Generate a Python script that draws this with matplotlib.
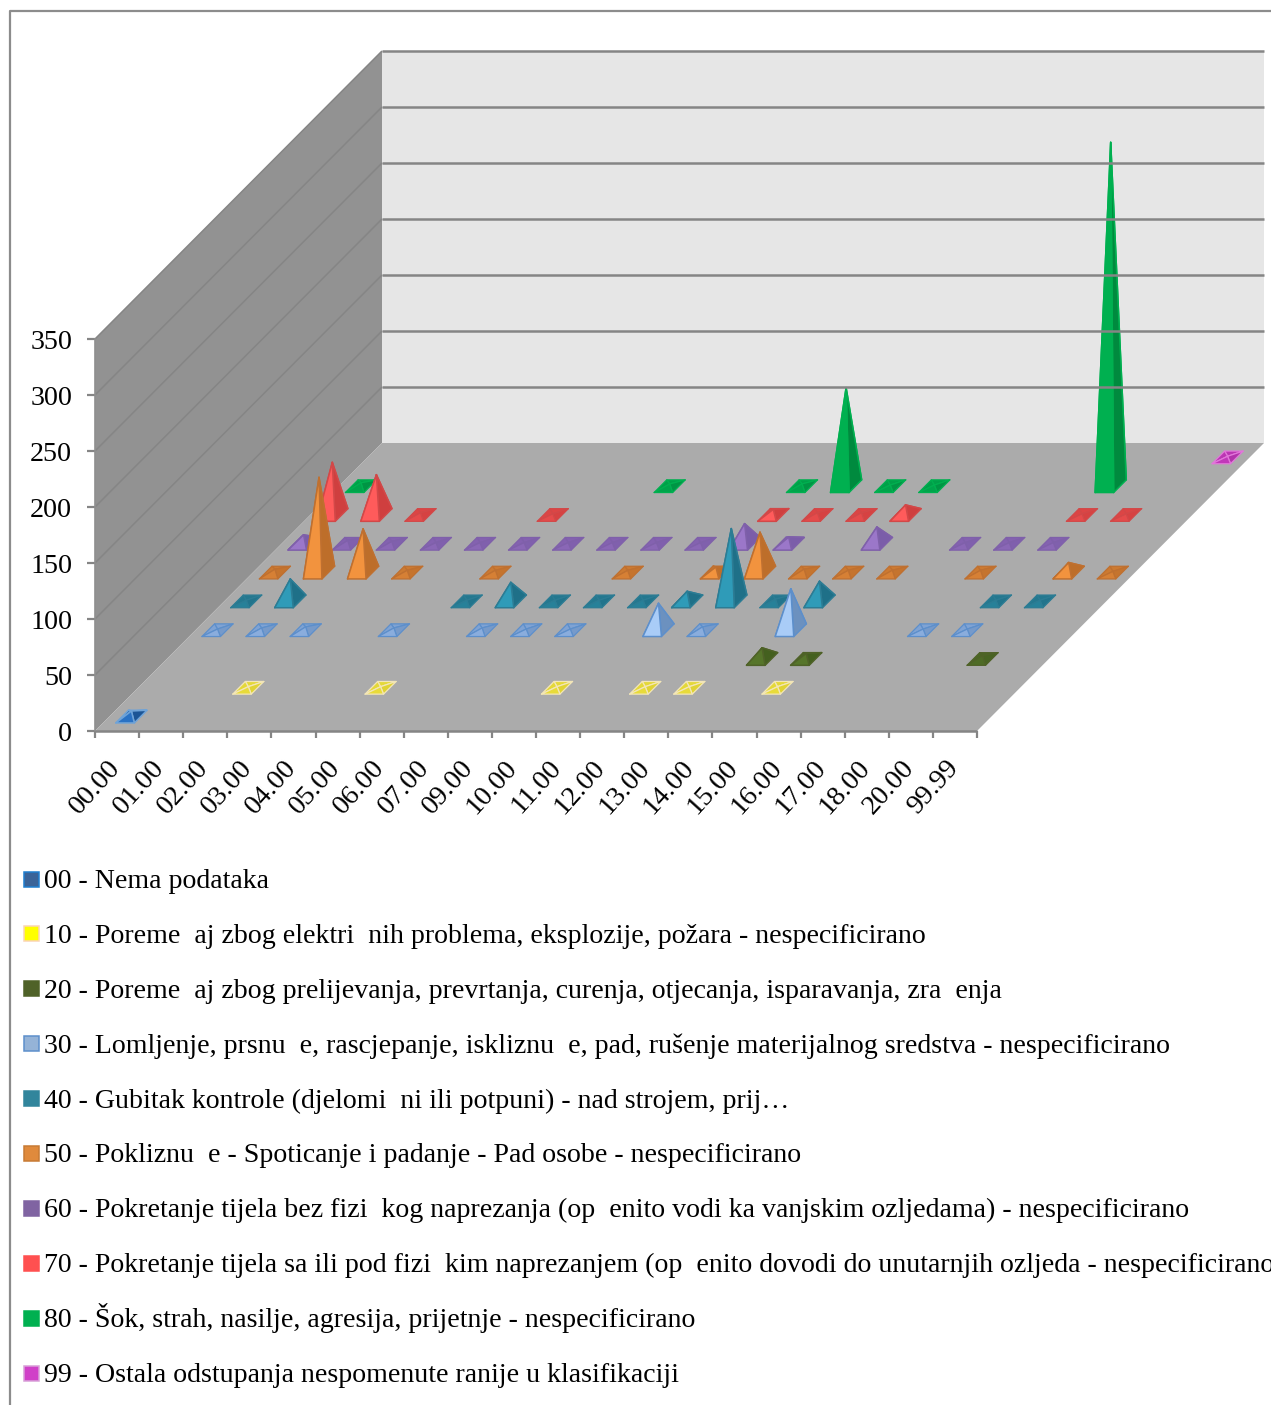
"""Excel style 3D pyramid chart, drawn on a pixel axes with an oblique projection."""
import matplotlib
matplotlib.use("Agg")
import matplotlib.pyplot as plt
from matplotlib.colors import to_rgb
from matplotlib.patches import Polygon, Rectangle

plt.rcParams["font.family"] = ["Liberation Serif", "DejaVu Sans"]

hours = ["00.00", "01.00", "02.00", "03.00", "04.00", "05.00", "06.00", "07.00", "09.00", "10.00",
         "11.00", "12.00", "13.00", "14.00", "15.00", "16.00", "17.00", "18.00", "20.00", "99.99"]
y_ticks = [0, 50, 100, 150, 200, 250, 300, 350]

# one value per hour, 0 = no pyramid
s00 = [5, 0, 0, 0, 0, 0, 0, 0, 0, 0, 0, 0, 0, 0, 0, 0, 0, 0, 0, 0]
s10 = [0, 0, 1, 0, 0, 1, 0, 0, 0, 1, 0, 1, 1, 0, 1, 0, 0, 0, 0, 0]
s20 = [0, 0, 0, 0, 0, 0, 0, 0, 0, 0, 0, 0, 0, 10, 5, 0, 0, 0, 3, 0]
s30 = [1, 2, 3, 0, 2, 0, 2, 1, 1, 0, 24, 3, 0, 37, 0, 0, 1, 1, 0, 0]
s40 = [1, 20, 0, 0, 0, 1, 17, 1, 1, 1, 9, 65, 2, 18, 0, 0, 0, 1, 1, 0]
s50 = [3, 85, 39, 2, 0, 2, 0, 0, 2, 0, 5, 36, 3, 2, 2, 0, 2, 0, 9, 1]
s60 = [8, 3, 2, 1, 1, 1, 1, 1, 1, 1, 18, 6, 0, 15, 0, 1, 1, 1, 0, 0]
s70 = [47, 36, 2, 0, 0, 1, 0, 0, 0, 0, 5, 2, 2, 9, 0, 0, 0, 1, 1, 0]
s80 = [3, 0, 0, 0, 0, 0, 0, 2, 0, 0, 2, 88, 1, 1, 0, 0, 0, 307, 0, 0]
s99 = [0, 0, 0, 0, 0, 0, 0, 0, 0, 0, 0, 0, 0, 0, 0, 0, 0, 0, 0, 1]
series = [s00, s10, s20, s30, s40, s50, s60, s70, s80, s99]

labels = [
    "00 - Nema podataka",
    "10 - Poreme  aj zbog elektri  nih problema, eksplozije, požara - nespecificirano",
    "20 - Poreme  aj zbog prelijevanja, prevrtanja, curenja, otjecanja, isparavanja, zra  enja",
    "30 - Lomljenje, prsnu  e, rascjepanje, iskliznu  e, pad, rušenje materijalnog sredstva - nespecificirano",
    "40 - Gubitak kontrole (djelomi  ni ili potpuni) - nad strojem, prij…",
    "50 - Pokliznu  e - Spoticanje i padanje - Pad osobe - nespecificirano",
    "60 - Pokretanje tijela bez fizi  kog naprezanja (op  enito vodi ka vanjskim ozljedama) - nespecificirano",
    "70 - Pokretanje tijela sa ili pod fizi  kim naprezanjem (op  enito dovodi do unutarnjih ozljeda - nespecificirano",
    "80 - Šok, strah, nasilje, agresija, prijetnje - nespecificirano",
    "99 - Ostala odstupanja nespomenute ranije u klasifikaciji",
]
# front face, right face, back/left face, edge
palette = [
    ("#2a72c4", "#1c5596", "#1f5fa8", "#6fa3d8"),
    ("#f2e640", "#dccf2e", "#e4d838", "#f3e6b8"),
    ("#56752a", "#44601f", "#4b6724", "#4f6228"),
    ("#a9ccf7", "#6c91bf", "#7fa3d4", "#5d8fcb"),
    ("#2f9bb8", "#1f7088", "#24788f", "#2c7c94"),
    ("#f2933e", "#bd6e2a", "#cc7a32", "#bf7030"),
    ("#9b77c9", "#7b5da9", "#8462b0", "#7f60aa"),
    ("#ff5b5b", "#cf3f3f", "#dc4545", "#d24848"),
    ("#00b050", "#008a3e", "#00a049", "#00b050"),
    ("#d23fca", "#a92fa2", "#bb36b3", "#e276da"),
]
legend_fill = ["#3a6398", "#ffff00", "#4f6228", "#95b3d7", "#31859c", "#e08a3c", "#8064a2", "#ff5050", "#00b050", "#d040c8"]
legend_edge = ["#1f7fd0", "#fbd5b5", "#4f6228", "#5d8fcb", "#31859c", "#c77b35", "#8064a2", "#ff5050", "#00b050", "#d9a0d8"]

# projection, pixels
X0, Y0 = 95.0, 731.0
CAT_W = 44.1
SER_DX, SER_DY = 28.7, 28.8
PX_PER_UNIT = 392.0 / 350.0
BASE_W = 0.42
BASE_D = 0.44


def project(cat, ser, val=0.0):
    return (X0 + CAT_W * cat + SER_DX * ser, Y0 - SER_DY * ser - PX_PER_UNIT * val)


def mix(a, b, t):
    return tuple(x * (1 - t) + y * t for x, y in zip(to_rgb(a), to_rgb(b)))


def pyramid(ax, cat, ser, val, colors):
    front, right, back, edge = colors
    lw = 1.1
    # very low pyramids read almost as one flat tile
    if val <= 3:
        front = mix(front, back, 0.75)
        right = mix(right, back, 0.5)
        lw = 0.9
    c, s = cat + 0.5, ser + 0.5
    hw, hd = BASE_W / 2, BASE_D / 2
    fl = project(c - hw, s - hd)
    fr = project(c + hw, s - hd)
    br = project(c + hw, s + hd)
    bl = project(c - hw, s + hd)
    apex = project(c, s, val)
    for a, b, col in [(bl, br, back), (fl, bl, back), (fr, br, right), (fl, fr, front)]:
        ax.add_patch(Polygon([a, b, apex], closed=True, fc=col, ec=edge, lw=lw, joinstyle="round"))


fig = plt.figure(figsize=(12.71, 14.05), dpi=100)
ax = fig.add_axes([0, 0, 1, 1])
ax.set_xlim(0, 1271)
ax.set_ylim(1405, 0)
ax.axis("off")

# outer chart frame, only the left and top sides are on the page
ax.plot([9.5, 9.5, 1271], [1405, 10.5, 10.5], color="#8c8c8c", lw=1.6)

n_cat, n_ser, top = len(hours), len(series), y_ticks[-1]
grid = "#858585"

ax.add_patch(Polygon([project(0, 0), project(0, n_ser), project(0, n_ser, top), project(0, 0, top)],
                     fc="#929292", ec="none"))
ax.add_patch(Polygon([project(0, n_ser), project(n_cat, n_ser), project(n_cat, n_ser, top), project(0, n_ser, top)],
                     fc="#e6e6e6", ec="none"))
ax.add_patch(Polygon([project(0, 0), project(n_cat, 0), project(n_cat, n_ser), project(0, n_ser)],
                     fc="#ababab", ec="none"))

for v in y_ticks:
    (xa, ya), (xb, yb), (xc, yc) = project(0, 0, v), project(0, n_ser, v), project(n_cat, n_ser, v)
    if v > 0:
        ax.plot([xa, xb], [ya, yb], color="#858585", lw=1.1, solid_capstyle="butt")
        ax.plot([xb, xc], [yb, yc], color=grid, lw=1.8, solid_capstyle="butt")
    ax.plot([xa - 8, xa], [ya, ya], color=grid, lw=1.6, solid_capstyle="butt")
    ax.text(xa - 23, ya + 10, str(v), ha="right", va="baseline", fontsize=20.2, color="black")

ax.plot(*zip(project(0, 0), project(0, 0, top)), color="#8f8f8f", lw=1.2)
ax.plot(*zip(project(0, 0), project(n_cat, 0)), color=grid, lw=1.8, solid_capstyle="butt")

for i in range(n_cat + 1):
    x, y = project(i, 0)
    ax.plot([x, x], [y, y + 7], color=grid, lw=1.6, solid_capstyle="butt")
for i, lab in enumerate(hours):
    x, y = project(i, 0)
    ax.text(x, y + 56, lab, rotation=48, ha="center", va="center",
            rotation_mode="anchor", fontsize=20.2, color="black")

# back row first so nearer pyramids cover the ones behind
for s in range(n_ser - 1, -1, -1):
    for i, v in enumerate(series[s]):
        if v > 0:
            pyramid(ax, i, s, v, palette[s])

for k, lab in enumerate(labels):
    y = 879 + 54.9 * k
    ax.add_patch(Rectangle((24, y - 7.5), 15, 15, fc=legend_fill[k], ec=legend_edge[k], lw=1.1))
    ax.text(44, y + 9, lab, ha="left", va="baseline", fontsize=20.12, color="black")

fig.savefig("out.png", dpi=100)
